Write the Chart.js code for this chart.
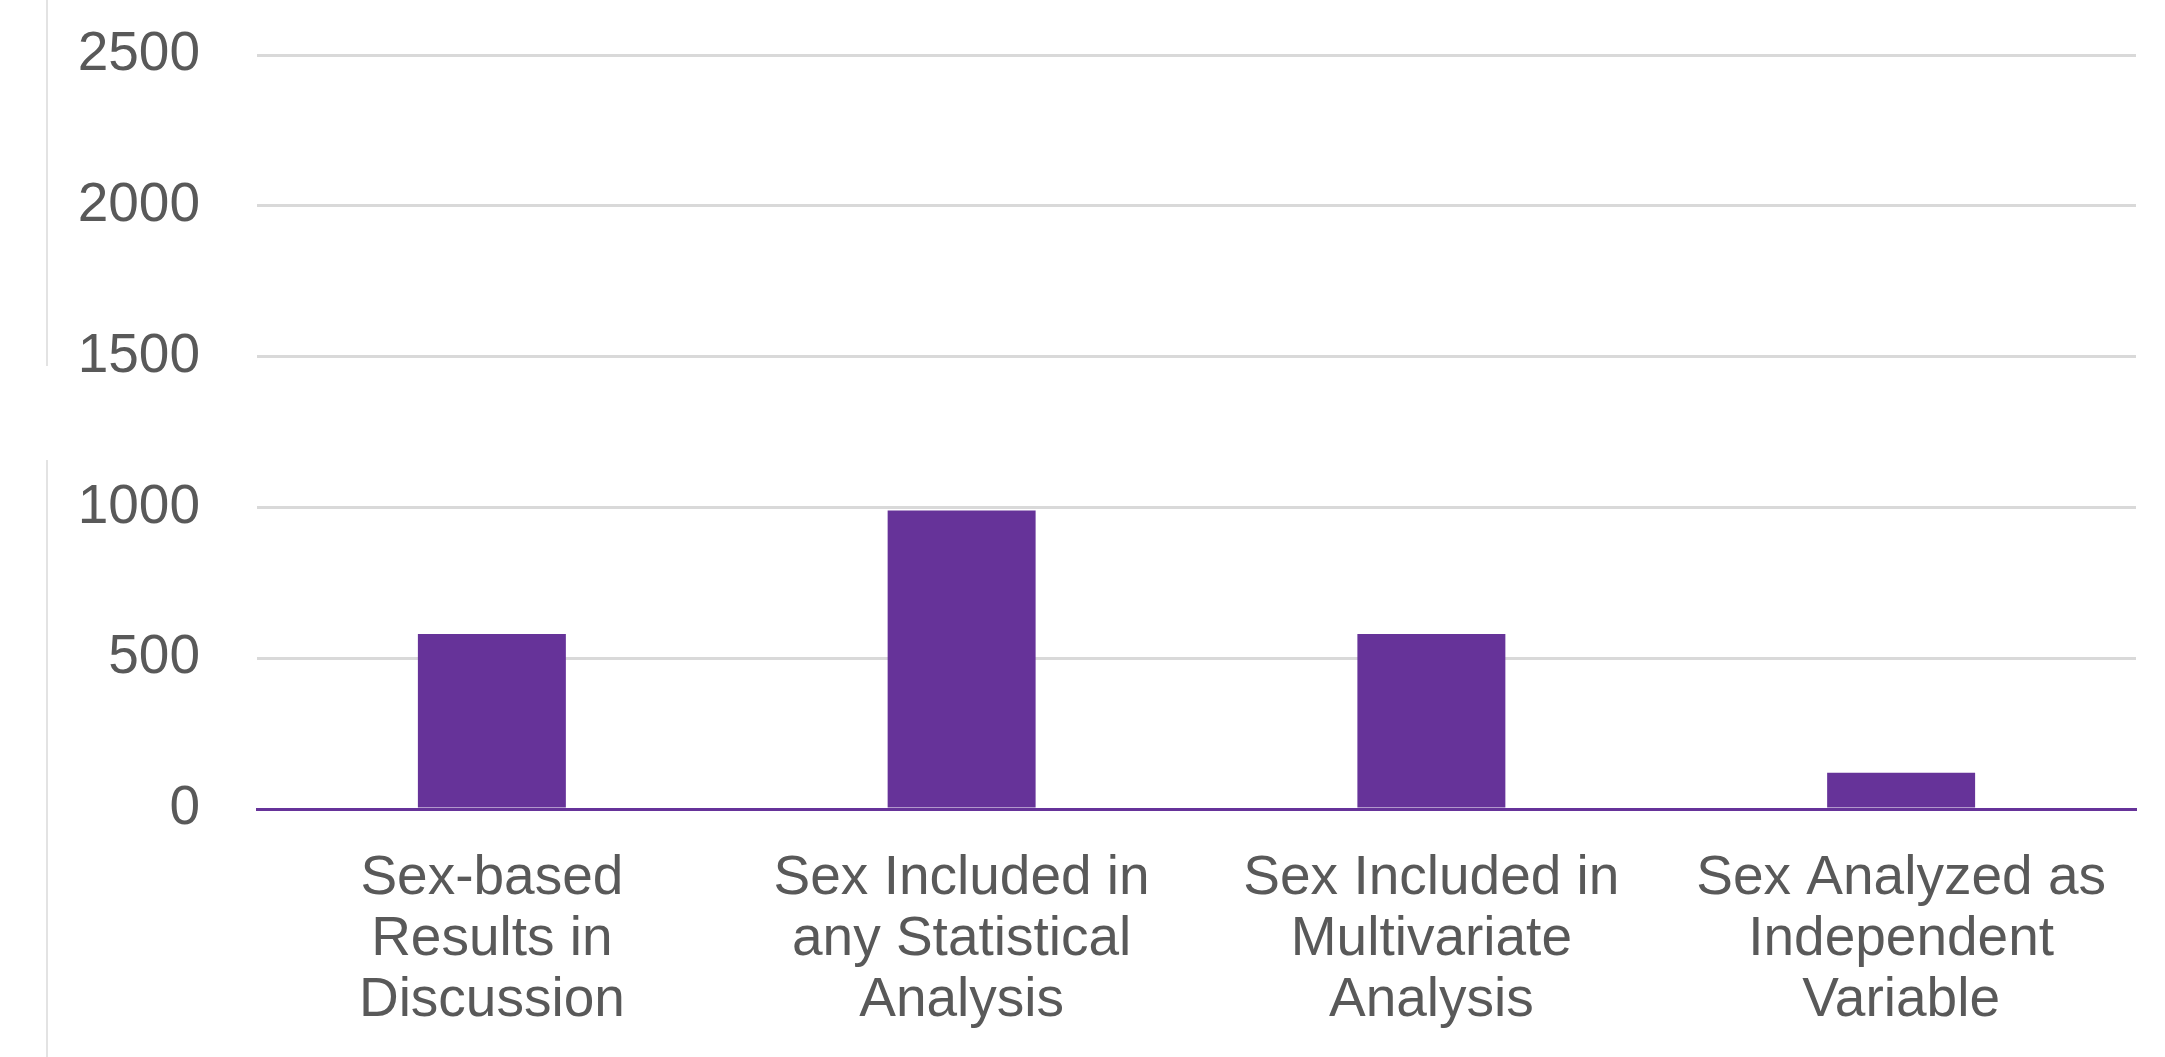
<!DOCTYPE html>
<html>
<head>
<meta charset="utf-8">
<script src="https://cdn.jsdelivr.net/npm/chart.js@4"></script>
<style>
  html, body { margin: 0; padding: 0; background: #fff; }
  #wrap { position: relative; width: 2165px; height: 1057px; }
  .edge { position: absolute; left: 46px; width: 2px; background: #e3e3e3; }
</style>
</head>
<body>
<div id="wrap">
  <canvas id="barChart" width="2165" height="1057"></canvas>
  <div class="edge" style="top:0;height:366px"></div>
  <div class="edge" style="top:460px;height:597px"></div>
</div>
<script>
var categories = [
    ["Sex-based", "Results in", "Discussion"],
    ["Sex Included in", "any Statistical", "Analysis"],
    ["Sex Included in", "Multivariate", "Analysis"],
    ["Sex Analyzed as", "Independent", "Variable"]
];
var counts = [580, 990, 580, 120];
var yMin = 0;
var yMax = 2500;
var yStep = 500;

var purple = "#663399";
var textColor = "#595959";
var font = { family: "'Liberation Sans', Arial, sans-serif", size: 55, lineHeight: 1.11 };

document.addEventListener("DOMContentLoaded", function () {
    var ctx = document.getElementById("barChart").getContext("2d");
    new Chart(ctx, {
        type: "bar",
        data: {
            labels: categories,
            datasets: [{
                data: counts,
                backgroundColor: purple,
                categoryPercentage: 1,
                barPercentage: 0.315
            }]
        },
        options: {
            responsive: false,
            animation: false,
            layout: { padding: { top: 55, right: 29, left: 0, bottom: 0 } },
            plugins: { legend: { display: false }, tooltip: { enabled: false } },
            scales: {
                x: {
                    grid: { display: false, drawTicks: false },
                    border: { display: true, color: purple, width: 3 },
                    ticks: { color: textColor, font: font, padding: 39, maxRotation: 0, autoSkip: false },
                    afterFit: function (scale) { scale.height = 248; }
                },
                y: {
                    min: yMin,
                    max: yMax,
                    ticks: {
                        stepSize: yStep, color: textColor, font: font, padding: 57,
                        callback: function (v) { return String(v); }
                    },
                    grid: {
                        drawTicks: false,
                        lineWidth: 3,
                        color: function (c) { return c.tick && c.tick.value === 0 ? purple : "#d9d9d9"; }
                    },
                    border: { display: false },
                    afterFit: function (scale) {
                        scale.width = 257;
                        scale.paddingTop = 0;
                        scale.paddingBottom = 0;
                    }
                }
            }
        }
    });
});
</script>
</body>
</html>
